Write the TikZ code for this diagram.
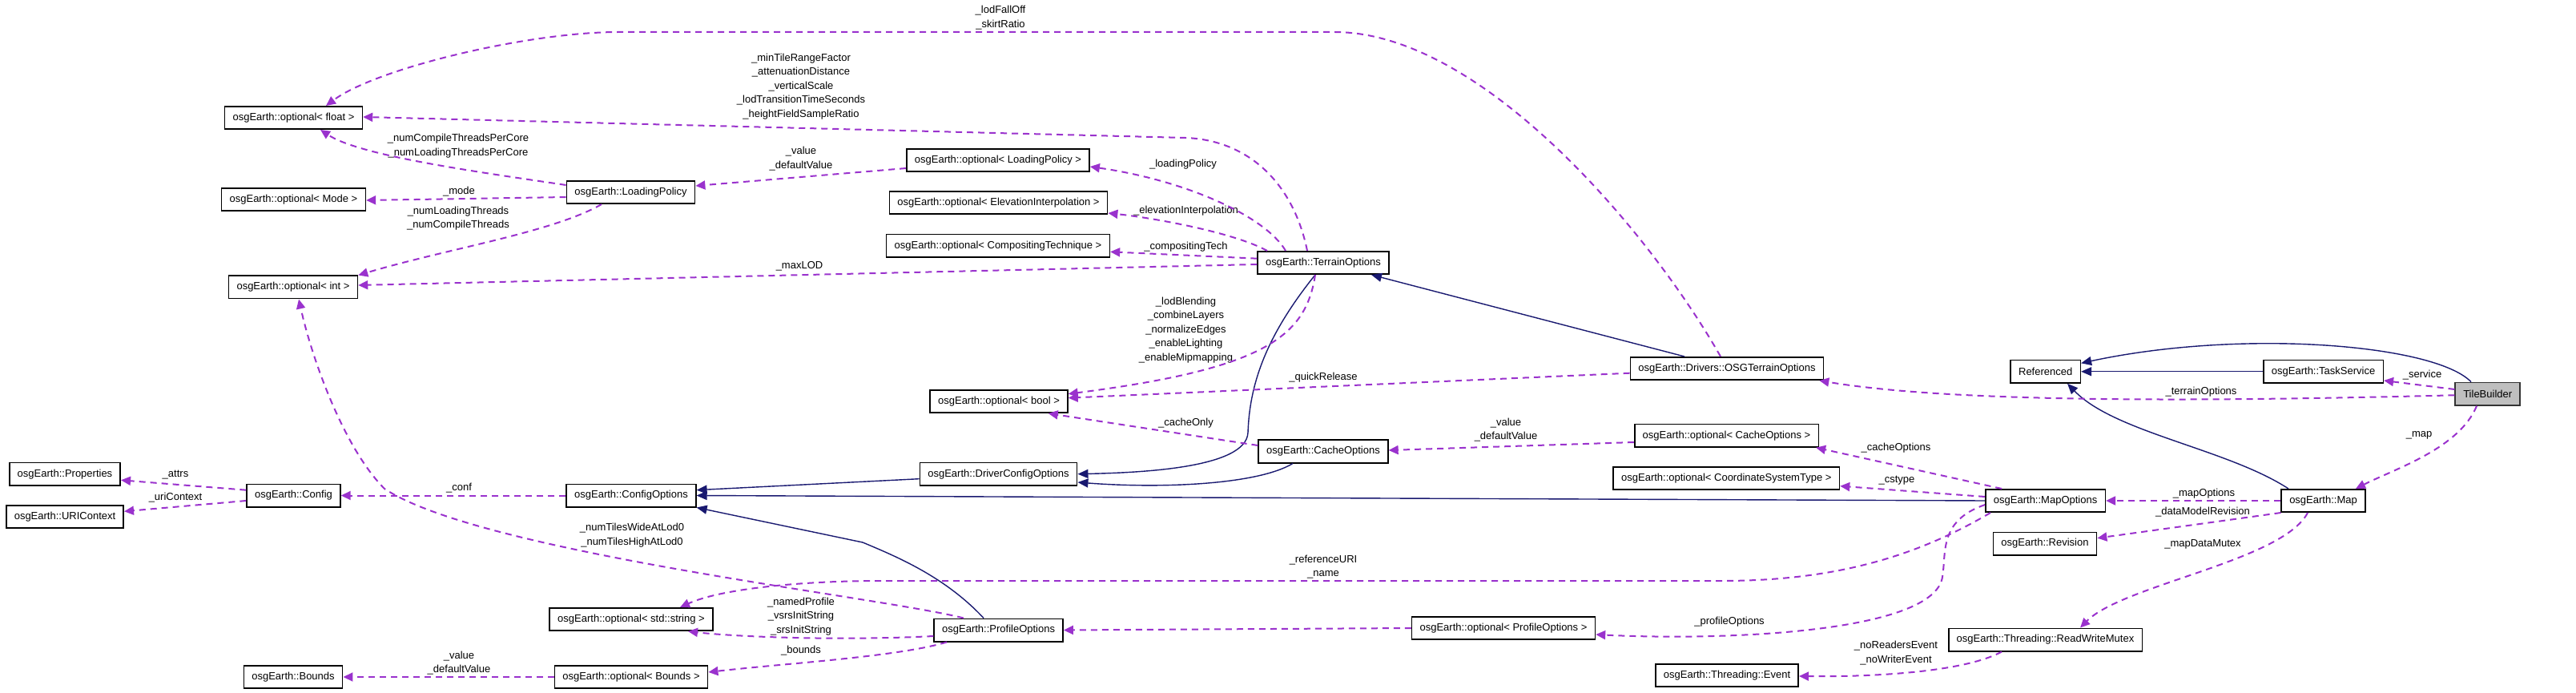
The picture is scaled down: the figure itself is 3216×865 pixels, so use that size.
\documentclass[tikz,border=0pt]{standalone}
\usepackage{fontspec}
\setmainfont{Liberation Sans}
\usepackage{xcolor}
\usepackage{tikz}
\usetikzlibrary{arrows.meta}
\definecolor{edgepurple}{RGB}{154,50,205}
\definecolor{edgenavy}{RGB}{25,25,112}

\begin{document}
\begin{tikzpicture}[x=0.5pt,y=-0.5pt,font=\fontsize{6.5}{8.75}\selectfont,
  cls/.style={draw,line width=0.8pt,inner xsep=5pt,inner ysep=0pt,minimum height=14.2pt},
  focus/.style={cls,fill=black!25,draw=black!80},
  lbl/.style={align=center,inner sep=0pt},
  member/.style={draw=edgepurple,line width=1pt,dash pattern=on 4pt off 3pt,-{Triangle[length=6pt,width=5.5pt]}},
  inherits/.style={draw=edgenavy,line width=0.7pt,-{Triangle[length=6.5pt,width=5.5pt]}}]
\useasboundingbox (0,0) rectangle (3216,865);

\node[cls] (flt) at (366.5,147) {osgEarth::optional< float >};
\node[cls] (mode) at (366.5,249) {osgEarth::optional< Mode >};
\node[cls] (lp) at (787.5,240) {osgEarth::LoadingPolicy};
\node[cls] (oint) at (366,358.5) {osgEarth::optional< int >};
\node[cls] (props) at (81,591.7) {osgEarth::Properties};
\node[cls] (uric) at (81,645) {osgEarth::URIContext};
\node[cls] (cfg) at (366.5,618.5) {osgEarth::Config};
\node[cls] (cfgopt) at (788,618.5) {osgEarth::ConfigOptions};
\node[cls] (ostr) at (788,773) {osgEarth::optional< std::string >};
\node[cls] (bnds) at (366,845) {osgEarth::Bounds};
\node[cls] (obnds) at (788,845) {osgEarth::optional< Bounds >};
\node[cls] (olp) at (1246,200) {osgEarth::optional< LoadingPolicy >};
\node[cls] (oelev) at (1246.5,253) {osgEarth::optional< ElevationInterpolation >};
\node[cls] (ocomp) at (1246,306.7) {osgEarth::optional< CompositingTechnique >};
\node[cls] (terr) at (1652,328) {osgEarth::TerrainOptions};
\node[cls] (obool) at (1247,501) {osgEarth::optional< bool >};
\node[cls] (cache) at (1652,563.5) {osgEarth::CacheOptions};
\node[cls] (dco) at (1246.5,591.7) {osgEarth::DriverConfigOptions};
\node[cls] (prof) at (1246.6,786.5) {osgEarth::ProfileOptions};
\node[cls] (oprof) at (1877,784) {osgEarth::optional< ProfileOptions >};
\node[cls] (osgto) at (2156,460) {osgEarth::Drivers::OSGTerrainOptions};
\node[cls] (ocache) at (2155.5,543.7) {osgEarth::optional< CacheOptions >};
\node[cls] (ocs) at (2155.3,597) {osgEarth::optional< CoordinateSystemType >};
\node[cls] (mapopt) at (2553.6,625) {osgEarth::MapOptions};
\node[cls] (refd) at (2553.7,463.8) {Referenced};
\node[cls] (task) at (2900.6,463.8) {osgEarth::TaskService};
\node[focus] (tile) at (3105.7,491.7) {TileBuilder};
\node[cls] (map) at (2900.5,625) {osgEarth::Map};
\node[cls] (rev) at (2553,678.5) {osgEarth::Revision};
\node[cls] (rwm) at (2553.5,798.5) {osgEarth::Threading::ReadWriteMutex};
\node[cls] (evt) at (2156,843) {osgEarth::Threading::Event};

\node[lbl] (lFall) at (1249,22) {\_lodFallOff\\\_skirtRatio};
\node[lbl] (lMinTile) at (1000,108) {\_minTileRangeFactor\\\_attenuationDistance\\\_verticalScale\\\_lodTransitionTimeSeconds\\\_heightFieldSampleRatio};
\node[lbl] (lThrCore) at (572,182) {\_numCompileThreadsPerCore\\\_numLoadingThreadsPerCore};
\node[lbl] (lMode) at (573,239) {\_mode};
\node[lbl] (lLpVal) at (1000,198) {\_value\\\_defaultValue};
\node[lbl] (lThr) at (572,272.5) {\_numLoadingThreads\\\_numCompileThreads};
\node[lbl] (lLoadPol) at (1477,205) {\_loadingPolicy};
\node[lbl] (lElev) at (1480.5,263) {\_elevationInterpolation};
\node[lbl] (lComp) at (1480.5,308) {\_compositingTech};
\node[lbl] (lMaxLod) at (998,332) {\_maxLOD};
\node[lbl] (lBool) at (1480.5,412) {\_lodBlending\\\_combineLayers\\\_normalizeEdges\\\_enableLighting\\\_enableMipmapping};
\node[lbl] (lQuick) at (1652,471) {\_quickRelease};
\node[lbl] (lCacheOnly) at (1480.5,528) {\_cacheOnly};
\node[lbl] (lCacheVal) at (1880,536.5) {\_value\\\_defaultValue};
\node[lbl] (lCacheOpt) at (2367,559) {\_cacheOptions};
\node[lbl] (lCstype) at (2368,600) {\_cstype};
\node[lbl] (lMapOpt) at (2751.5,616) {\_mapOptions};
\node[lbl] (lRev) at (2750,639) {\_dataModelRevision};
\node[lbl] (lMutex) at (2750,679) {\_mapDataMutex};
\node[lbl] (lEvent) at (2367,815) {\_noReadersEvent\\\_noWriterEvent};
\node[lbl] (lRefUri) at (1652,707.5) {\_referenceURI\\\_name};
\node[lbl] (lProfOpt) at (2159,776) {\_profileOptions};
\node[lbl] (lStr) at (1000,769.5) {\_namedProfile\\\_vsrsInitString\\\_srsInitString};
\node[lbl] (lBounds) at (1000,812) {\_bounds};
\node[lbl] (lBndVal) at (573,827.5) {\_value\\\_defaultValue};
\node[lbl] (lTiles) at (789,668) {\_numTilesWideAtLod0\\\_numTilesHighAtLod0};
\node[lbl] (lAttrs) at (219,593) {\_attrs};
\node[lbl] (lUri) at (219,621) {\_uriContext};
\node[lbl] (lConf) at (573,609) {\_conf};
\node[lbl] (lService) at (3024,468) {\_service};
\node[lbl] (lTerrOpt) at (2748,489) {\_terrainOptions};
\node[lbl] (lMap) at (3020,543) {\_map};

\draw[inherits] (task.west) -- (refd.east);
\draw[inherits] ([xshift=-10.35pt]tile.north) .. controls (3040,430) and (2800,410) .. ([yshift=5.25pt]refd.east);
\draw[inherits] ([xshift=-21.75pt]map.north) .. controls (2780,560) and (2640,540) .. ([xshift=13.65pt]refd.south);
\draw[inherits] ([xshift=-26.5pt]osgto.north) -- ([xshift=30pt]terr.south);
\draw[inherits] ([xshift=-5pt]terr.south) .. controls (1580,420) and (1560,480) .. (1558,540) .. controls (1556,585) and (1420,590) .. (dco.east);
\draw[inherits] ([xshift=-19pt]cache.south) .. controls (1570,605) and (1450,610) .. ([yshift=-5.15pt]dco.east);
\draw[inherits] ([yshift=-3pt]dco.west) -- ([yshift=3.4pt]cfgopt.east);
\draw[inherits] (mapopt.west) -- (cfgopt.east);
\draw[inherits] ([xshift=-9.3pt]prof.north) .. controls (1180,720) and (1120,695) .. (1077,677) -- (cfgopt.south east);

\draw[member] ([xshift=-4pt]osgto.north) .. controls (2060,290) and (1850,40) .. (1666,40) -- (772,40) .. controls (660,40) and (470,85) .. ([xshift=20.25pt]flt.north);
\draw[member] ([xshift=-10pt]terr.north) .. controls (1615,230) and (1560,175) .. (1480,172) -- ([yshift=0.5pt]flt.east);
\draw[member] ([yshift=4.5pt]lp.west) .. controls (600,215) and (450,195) .. ([xshift=16.75pt]flt.south);
\draw[member] ([yshift=-3pt]lp.west) -- ([yshift=-0.5pt]mode.east);
\draw[member] ([yshift=-5pt]olp.west) -- ([yshift=4pt]lp.east);
\draw[member] ([xshift=-18.25pt]lp.south) .. controls (690,290) and (560,310) .. (oint.north east);
\draw[member] ([xshift=-23.5pt]terr.north) .. controls (1580,270) and (1480,225) .. ([yshift=-4pt]olp.east);
\draw[member] ([xshift=-35pt]terr.north) .. controls (1540,290) and (1440,272) .. ([yshift=1pt]oelev.south east);
\draw[member] ([yshift=2.65pt]terr.west) -- ([yshift=-3.8pt]ocomp.east);
\draw[member] ([yshift=-1pt]terr.west) -- ([yshift=1.25pt]oint.east);
\draw[member] ([xshift=-5pt]terr.south) .. controls (1630,420) and (1580,460) .. ([yshift=4.65pt]obool.east);
\draw[member] ([yshift=-2.85pt]osgto.west) -- ([yshift=2.15pt]obool.east);
\draw[member] ([yshift=3.75pt]cache.west) -- ([xshift=30.85pt]obool.south);
\draw[member] ([yshift=-4.15pt]ocache.west) -- ([yshift=0.75pt]cache.east);
\draw[member] ([xshift=-27.3pt]mapopt.north) -- ([xshift=-2pt]ocache.south east);
\draw[member] ([yshift=2.5pt]mapopt.west) -- ([yshift=-4.85pt]ocs.east);
\draw[member] (map.west) -- (mapopt.east);
\draw[member] (map.south west) -- ([yshift=3.4pt]rev.east);
\draw[member] ([xshift=-9.75pt]map.south) .. controls (2850,700) and (2650,730) .. ([xshift=21.75pt]rwm.north);
\draw[member] ([xshift=-27.25pt]rwm.south) .. controls (2450,840) and (2330,845) .. ([yshift=-0.5pt]evt.east);
\draw[member] ([xshift=-34.3pt]mapopt.south) .. controls (2400,690) and (2300,725) .. (2150,725) -- (1100,725) .. controls (1000,725) and (900,735) .. ([xshift=30.5pt]ostr.north);
\draw[member] ([yshift=-2.5pt]mapopt.west) .. controls (2420,650) and (2430,690) .. (2425,720) .. controls (2415,790) and (2150,800) .. ([yshift=-4pt]oprof.east);
\draw[member] (oprof.west) -- (prof.east);
\draw[member] ([yshift=-3.75pt]prof.west) .. controls (1050,800) and (920,795) .. ([xshift=35.5pt]ostr.south);
\draw[member] ([xshift=-32.3pt]prof.south) .. controls (1120,820) and (980,828) .. ([yshift=3pt]obnds.east);
\draw[member] (obnds.west) -- (bnds.east);
\draw[member] ([xshift=-21.8pt]prof.north) .. controls (1100,745) and (600,690) .. (480,610) .. controls (430,560) and (390,450) .. ([xshift=3.5pt]oint.south);
\draw[member] ([yshift=3.4pt]cfg.west) -- ([yshift=-3.8pt]props.east);
\draw[member] ([yshift=-3.25pt]cfg.west) -- ([yshift=3.35pt]uric.east);
\draw[member] (cfgopt.west) -- (cfg.east);
\draw[member] ([yshift=2.85pt]tile.west) -- ([yshift=-5.6pt]task.east);
\draw[member] ([yshift=-0.8pt]tile.west) .. controls (2800,500) and (2450,505) .. ([xshift=-3pt]osgto.south east);
\draw[member] ([xshift=-6.85pt]tile.south) .. controls (3070,560) and (2990,585) .. ([xshift=20.25pt]map.north);
\end{tikzpicture}
\end{document}
